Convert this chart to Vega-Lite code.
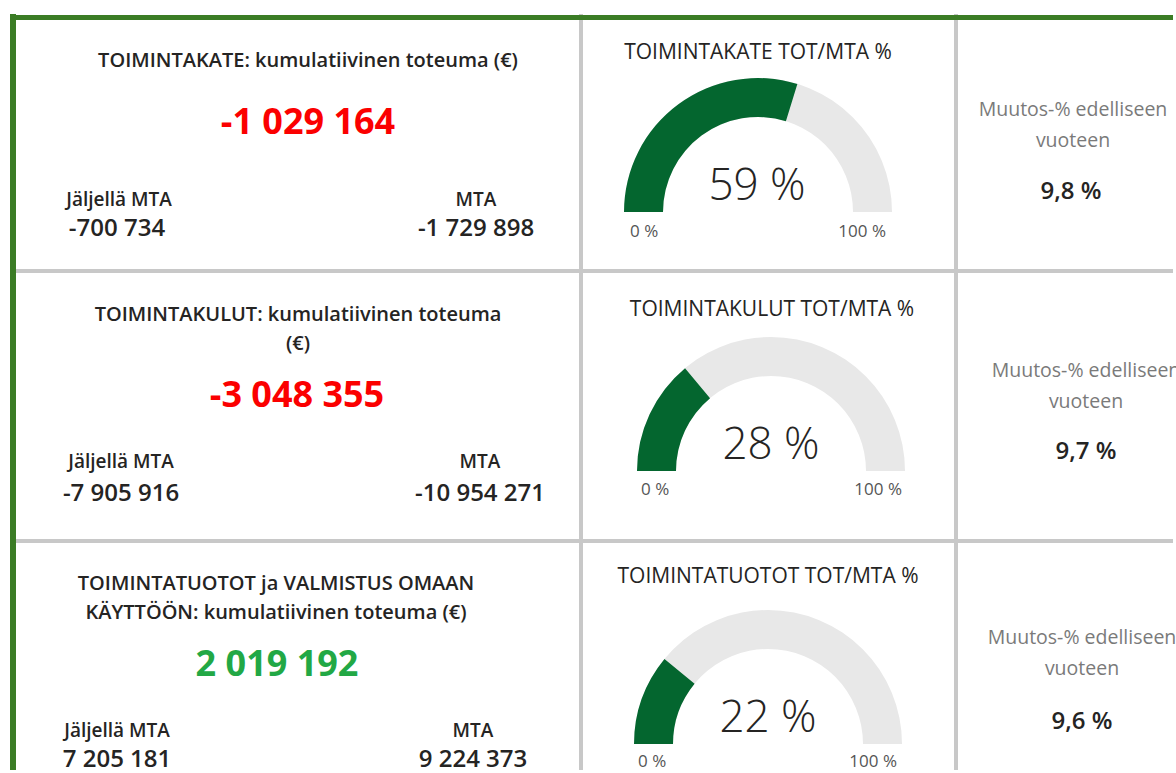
{
  "$schema": "https://vega.github.io/schema/vega-lite/v6.json",
  "width": 1176,
  "height": 773,
  "autosize": {"type": "fit", "contains": "padding"},
  "padding": {"left": 7, "top": 11, "right": 0, "bottom": 0},
  "background": "white",
  "config": {
    "view": {"stroke": null},
    "locale": {"number": {"decimal": ",", "thousands": " ", "grouping": [3], "currency": ["", " %"], "minus": "-"}}
  },
  "datasets": {
    "kpis": [
      {"row": 1, "title": "TOIMINTAKATE: kumulatiivinen toteuma (€)", "value": -1029164, "remaining": -700734, "mta": -1729898, "gauge": "TOIMINTAKATE TOT/MTA %", "pct": 59.49, "change": 9.8},
      {"row": 2, "title": "TOIMINTAKULUT: kumulatiivinen toteuma\n(€)", "value": -3048355, "remaining": -7905916, "mta": -10954271, "gauge": "TOIMINTAKULUT TOT/MTA %", "pct": 27.83, "change": 9.7},
      {"row": 3, "title": "TOIMINTATUOTOT ja VALMISTUS OMAAN\nKÄYTTÖÖN: kumulatiivinen toteuma (€)", "value": 2019192, "remaining": 7205181, "mta": 9224373, "gauge": "TOIMINTATUOTOT TOT/MTA %", "pct": 21.89, "change": 9.6}
    ],
    "separators": [{"sep": 1}, {"sep": 2}],
    "frame": [{"edge": 0}]
  },
  "resolve": {"scale": {"x": "independent", "y": "independent"}},
  "layer": [
    {
      "data": {"name": "separators"},
      "mark": {"type": "rule", "color": "#c8c8c8", "strokeWidth": 4},
      "encoding": {
        "x": {"field": "sep", "type": "quantitative", "scale": {"domain": [1, 2], "range": [571, 946], "zero": false, "nice": false}, "axis": null}
      }
    },
    {
      "data": {"name": "separators"},
      "mark": {"type": "rule", "color": "#c8c8c8", "strokeWidth": 4},
      "encoding": {
        "y": {"field": "sep", "type": "quantitative", "scale": {"domain": [1, 2], "range": [257, 527], "zero": false, "nice": false}, "axis": null}
      }
    },
    {
      "data": {"name": "frame"},
      "mark": {"type": "rule", "color": "#3b7c25", "strokeWidth": 6},
      "encoding": {
        "x": {"field": "edge", "type": "quantitative", "scale": {"domain": [0, 1], "range": [3, 1169], "zero": false, "nice": false}, "axis": null}
      }
    },
    {
      "data": {"name": "frame"},
      "mark": {"type": "rule", "color": "#3b7c25", "strokeWidth": 5},
      "encoding": {
        "y": {"field": "edge", "type": "quantitative", "scale": {"domain": [0, 1], "range": [3.5, 762], "zero": false, "nice": false}, "axis": null}
      }
    },
    {
      "data": {"name": "kpis"},
      "mark": {"type": "text", "font": "Open Sans", "fontSize": 20, "fontWeight": 600, "color": "#252423", "align": "center", "baseline": "alphabetic", "lineBreak": "\n", "lineHeight": 29},
      "encoding": {
        "x": {"field": "row", "type": "quantitative", "scale": {"domain": [1, 2, 3], "range": [298, 288, 266], "zero": false, "nice": false}, "axis": null},
        "y": {"field": "row", "type": "quantitative", "scale": {"domain": [1, 2, 3], "range": [53, 307, 576], "zero": false, "nice": false}, "axis": null},
        "text": {"field": "title", "type": "nominal"}
      }
    },
    {
      "data": {"name": "kpis"},
      "mark": {"type": "text", "font": "Open Sans", "fontSize": 36, "fontWeight": 700, "align": "center", "baseline": "alphabetic"},
      "encoding": {
        "x": {"field": "row", "type": "quantitative", "scale": {"domain": [1, 2, 3], "range": [298, 287, 267], "zero": false, "nice": false}, "axis": null},
        "y": {"field": "row", "type": "quantitative", "scale": {"domain": [1, 2, 3], "range": [120, 393, 662], "zero": false, "nice": false}, "axis": null},
        "text": {"field": "value", "type": "quantitative", "format": ",d"},
        "color": {"condition": {"test": "datum.value < 0", "value": "#fb0000"}, "value": "#22a845"}
      }
    },
    {
      "data": {"name": "kpis"},
      "mark": {"type": "text", "text": "Jäljellä MTA", "font": "Open Sans", "fontSize": 19, "fontWeight": 600, "color": "#252423", "align": "center", "baseline": "alphabetic"},
      "encoding": {
        "x": {"field": "row", "type": "quantitative", "scale": {"domain": [1, 2, 3], "range": [109, 111, 107], "zero": false, "nice": false}, "axis": null},
        "y": {"field": "row", "type": "quantitative", "scale": {"domain": [1, 2, 3], "range": [192, 454, 723], "zero": false, "nice": false}, "axis": null}
      }
    },
    {
      "data": {"name": "kpis"},
      "mark": {"type": "text", "font": "Open Sans", "fontSize": 24, "fontWeight": 600, "color": "#252423", "align": "center", "baseline": "alphabetic"},
      "encoding": {
        "x": {"field": "row", "type": "quantitative", "scale": {"domain": [1, 2, 3], "range": [107, 111, 107], "zero": false, "nice": false}, "axis": null},
        "y": {"field": "row", "type": "quantitative", "scale": {"domain": [1, 2, 3], "range": [222, 487, 753], "zero": false, "nice": false}, "axis": null},
        "text": {"field": "remaining", "type": "quantitative", "format": ",d"}
      }
    },
    {
      "data": {"name": "kpis"},
      "mark": {"type": "text", "text": "MTA", "font": "Open Sans", "fontSize": 19, "fontWeight": 600, "color": "#252423", "align": "center", "baseline": "alphabetic"},
      "encoding": {
        "x": {"field": "row", "type": "quantitative", "scale": {"domain": [1, 2, 3], "range": [466, 470, 463], "zero": false, "nice": false}, "axis": null},
        "y": {"field": "row", "type": "quantitative", "scale": {"domain": [1, 2, 3], "range": [192, 454, 723], "zero": false, "nice": false}, "axis": null}
      }
    },
    {
      "data": {"name": "kpis"},
      "mark": {"type": "text", "font": "Open Sans", "fontSize": 24, "fontWeight": 600, "color": "#252423", "align": "center", "baseline": "alphabetic"},
      "encoding": {
        "x": {"field": "row", "type": "quantitative", "scale": {"domain": [1, 2, 3], "range": [466, 470, 463], "zero": false, "nice": false}, "axis": null},
        "y": {"field": "row", "type": "quantitative", "scale": {"domain": [1, 2, 3], "range": [222, 487, 753], "zero": false, "nice": false}, "axis": null},
        "text": {"field": "mta", "type": "quantitative", "format": ",d"}
      }
    },
    {
      "data": {"name": "kpis"},
      "mark": {"type": "text", "font": "Open Sans", "fontSize": 21, "fontWeight": 400, "color": "#252423", "align": "center", "baseline": "alphabetic"},
      "encoding": {
        "x": {"field": "row", "type": "quantitative", "scale": {"domain": [1, 2, 3], "range": [748, 762, 758], "zero": false, "nice": false}, "axis": null},
        "y": {"field": "row", "type": "quantitative", "scale": {"domain": [1, 2, 3], "range": [45, 302, 569], "zero": false, "nice": false}, "axis": null},
        "text": {"field": "gauge", "type": "nominal"}
      }
    },
    {
      "data": {"name": "kpis"},
      "mark": {"type": "arc", "color": "#e8e8e8", "outerRadius": 134, "innerRadius": 95, "theta": -1.5708, "theta2": 1.5708},
      "encoding": {
        "x": {"field": "row", "type": "quantitative", "scale": {"domain": [1, 2, 3], "range": [748, 761, 758], "zero": false, "nice": false}, "axis": null},
        "y": {"field": "row", "type": "quantitative", "scale": {"domain": [1, 2, 3], "range": [198, 457, 730], "zero": false, "nice": false}, "axis": null}
      }
    },
    {
      "data": {"name": "kpis"},
      "transform": [{"stack": "pct", "groupby": ["row"], "as": ["g0", "g1"]}],
      "mark": {"type": "arc", "color": "#04662f", "outerRadius": 134, "innerRadius": 95},
      "encoding": {
        "x": {"field": "row", "type": "quantitative", "scale": {"domain": [1, 2, 3], "range": [748, 761, 758], "zero": false, "nice": false}, "axis": null},
        "y": {"field": "row", "type": "quantitative", "scale": {"domain": [1, 2, 3], "range": [198, 457, 730], "zero": false, "nice": false}, "axis": null},
        "theta": {"field": "g0", "type": "quantitative", "stack": null, "scale": {"domain": [0, 100], "range": [-1.5708, 1.5708], "zero": false, "nice": false}},
        "theta2": {"field": "g1"}
      }
    },
    {
      "data": {"name": "kpis"},
      "mark": {"type": "text", "font": "Open Sans", "fontSize": 44, "fontWeight": 300, "color": "#252423", "align": "center", "baseline": "alphabetic"},
      "encoding": {
        "x": {"field": "row", "type": "quantitative", "scale": {"domain": [1, 2, 3], "range": [747, 761, 758], "zero": false, "nice": false}, "axis": null},
        "y": {"field": "row", "type": "quantitative", "scale": {"domain": [1, 2, 3], "range": [186, 445, 718], "zero": false, "nice": false}, "axis": null},
        "text": {"field": "pct", "type": "quantitative", "format": "$d"}
      }
    },
    {
      "data": {"name": "kpis"},
      "mark": {"type": "text", "text": "0 %", "font": "Open Sans", "fontSize": 17, "color": "#555555", "align": "left", "baseline": "alphabetic"},
      "encoding": {
        "x": {"field": "row", "type": "quantitative", "scale": {"domain": [1, 2, 3], "range": [620, 631, 628], "zero": false, "nice": false}, "axis": null},
        "y": {"field": "row", "type": "quantitative", "scale": {"domain": [1, 2, 3], "range": [223, 481, 753], "zero": false, "nice": false}, "axis": null}
      }
    },
    {
      "data": {"name": "kpis"},
      "mark": {"type": "text", "text": "100 %", "font": "Open Sans", "fontSize": 17, "color": "#555555", "align": "right", "baseline": "alphabetic"},
      "encoding": {
        "x": {"field": "row", "type": "quantitative", "scale": {"domain": [1, 2, 3], "range": [876, 892, 887], "zero": false, "nice": false}, "axis": null},
        "y": {"field": "row", "type": "quantitative", "scale": {"domain": [1, 2, 3], "range": [223, 481, 753], "zero": false, "nice": false}, "axis": null}
      }
    },
    {
      "data": {"name": "kpis"},
      "mark": {"type": "text", "text": ["Muutos-% edelliseen", "vuoteen"], "font": "Open Sans", "fontSize": 19.5, "color": "#7a7a7a", "align": "center", "baseline": "alphabetic", "lineHeight": 31},
      "encoding": {
        "x": {"field": "row", "type": "quantitative", "scale": {"domain": [1, 2, 3], "range": [1063, 1076, 1072], "zero": false, "nice": false}, "axis": null},
        "y": {"field": "row", "type": "quantitative", "scale": {"domain": [1, 2, 3], "range": [102, 363, 630], "zero": false, "nice": false}, "axis": null}
      }
    },
    {
      "data": {"name": "kpis"},
      "mark": {"type": "text", "font": "Open Sans", "fontSize": 24, "fontWeight": 600, "color": "#252423", "align": "center", "baseline": "alphabetic"},
      "encoding": {
        "x": {"field": "row", "type": "quantitative", "scale": {"domain": [1, 2, 3], "range": [1061, 1076, 1072], "zero": false, "nice": false}, "axis": null},
        "y": {"field": "row", "type": "quantitative", "scale": {"domain": [1, 2, 3], "range": [185, 445, 715], "zero": false, "nice": false}, "axis": null},
        "text": {"field": "change", "type": "quantitative", "format": "$.1f"}
      }
    }
  ]
}
